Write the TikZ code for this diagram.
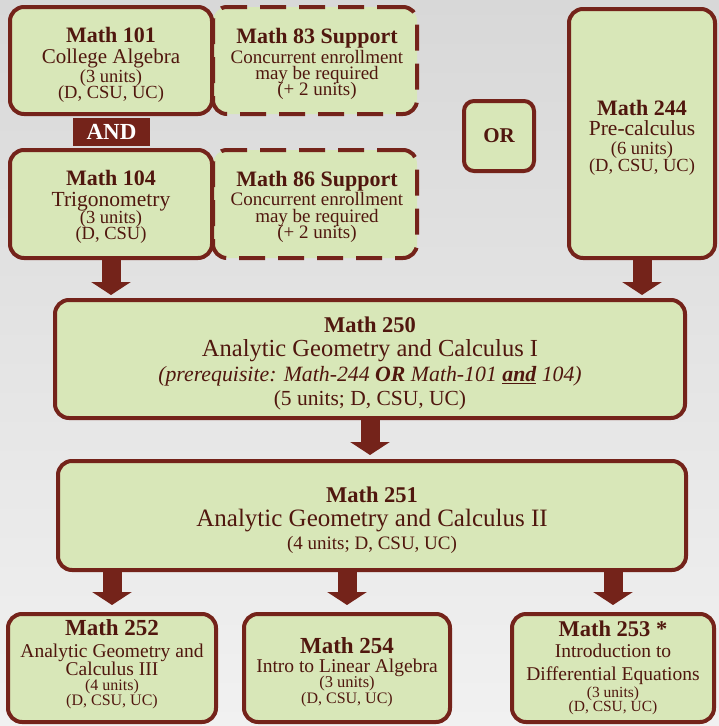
\documentclass[tikz,border=0pt]{standalone}
\usepackage{fontspec}
\setmainfont{Liberation Serif}
\usetikzlibrary{arrows.meta}
\definecolor{maroon}{HTML}{74231A}
\definecolor{boxfill}{HTML}{D8E7B8}
\definecolor{txt}{HTML}{50170E}
\definecolor{bgtop}{HTML}{D8D8D8}
\definecolor{bgbot}{HTML}{F1F1F1}
\pgfdeclarelayer{back}
\pgfdeclarelayer{arrowlayer}
\pgfsetlayers{back,arrowlayer,main}
\newcommand\fs[2]{\fontsize{#1}{#2}\selectfont}
\newcommand\tightlines{\lineskiplimit=-100pt\relax}
\begin{document}
\begin{tikzpicture}[x=1pt,y=-1pt,
  course/.style={draw=maroon, line width=4pt, fill=boxfill, rounded corners=14pt, inner sep=0pt},
  support/.style={course, dash pattern=on 26pt off 13pt},
  txtblock/.style={text=txt, align=center, inner sep=0pt, anchor=north, font=\fs{18.5}{16}\tightlines},
  flow/.style={draw=maroon, line width=19pt, -{Triangle[width=39pt,length=13pt]}},
]
\begin{pgfonlayer}{back}
\shade[top color=bgtop, bottom color=bgbot] (0,0) rectangle (719,726);
\end{pgfonlayer}
\useasboundingbox (0,0) rectangle (719,726);

% boxes
\node[support, minimum width=204pt, minimum height=107pt] (n83) at (315,60.5) {};
\node[support, minimum width=204pt, minimum height=108pt] (n86) at (315,204) {};
\node[course, minimum width=202pt, minimum height=107pt] (n101) at (111,60.5) {};
\node[course, minimum width=202pt, minimum height=108pt] (n104) at (111,204) {};
\node[course, rounded corners=10pt, minimum width=70pt, minimum height=70pt,
      text=txt, font=\fs{21}{21}\bfseries] (nOR) at (499,136) {OR};
\node[course, minimum width=146pt, minimum height=249pt] (n244) at (642,133.5) {};
\node[course, minimum width=630pt, minimum height=118pt] (n250) at (370,359) {};
\node[course, minimum width=628pt, minimum height=109pt] (n251) at (372,515.5) {};
\node[course, minimum width=208pt, minimum height=108pt] (n252) at (112,668) {};
\node[course, minimum width=206pt, minimum height=108pt] (n254) at (347,668) {};
\node[course, minimum width=202pt, minimum height=108pt] (n253) at (613,668) {};
\node[fill=maroon, minimum width=77pt, minimum height=28pt, inner sep=0pt,
      text=white, font=\fs{23}{23}\bfseries] (nAND) at (111.5,132) {AND};

% texts
\node[txtblock] (t101) at (111,27.4) {{\fs{22}{16}\bfseries Math 101}\\[5pt]
  {\fs{21}{16}College Algebra}\\[2.4pt] (3 units)\\ (D, CSU, UC)};
\node[txtblock] (t83) at (317,28.1) {{\fs{22}{16}\bfseries Math 83 Support}\\[4pt]
  {\fs{19}{16}Concurrent enrollment}\\ {\fs{19}{16}may be required}\\ {\fs{19}{16}(+ 2 units)}};
\node[txtblock] (t104) at (111,170.1) {{\fs{22}{16}\bfseries Math 104}\\[4.7pt]
  {\fs{21.5}{16}Trigonometry}\\[1pt] (3 units)\\[0.6pt] (D, CSU)};
\node[txtblock] (t86) at (317,171.1) {{\fs{22}{16}\bfseries Math 86 Support}\\[3pt]
  {\fs{19}{16}Concurrent enrollment}\\[0.7pt] {\fs{19}{16}may be required}\\ {\fs{19}{16}(+ 2 units)}};
\node[txtblock] (t244) at (642,100.1) {{\fs{22}{16}\bfseries Math 244}\\[4pt]
  {\fs{21.5}{16}Pre-calculus}\\[3pt] (6 units)\\[1pt] (D, CSU, UC)};
\node[txtblock] (t250) at (370,316.8) {{\fs{22.5}{16}\bfseries Math 250}\\[8pt]
  {\fs{24.5}{16}Analytic Geometry and Calculus I}\\[9pt]
  {\fs{21.8}{16}\itshape (prerequisite: Math-244 \textbf{OR} Math-101 \underline{\textbf{and}} 104)}\\[8pt]
  {\fs{21.5}{16}(5 units; D, CSU, UC)}};
\node[txtblock] (t251) at (372,486.8) {{\fs{22.5}{16}\bfseries Math 251}\\[8pt]
  {\fs{25}{16}Analytic Geometry and Calculus II}\\[7pt]
  {\fs{19}{16}(4 units; D, CSU, UC)}};
\node[txtblock] (t252) at (112,619.4) {{\fs{23}{16}\bfseries Math 252}\\[6pt]
  {\fs{19.5}{16}Analytic Geometry and}\\[2pt] {\fs{19.5}{16}Calculus III}\\[-1pt]
  {\fs{16}{16}(4 units)}\\[-1pt] {\fs{16}{16}(D, CSU, UC)}};
\node[txtblock] (t254) at (347,637.4) {{\fs{23}{16}\bfseries Math 254}\\[2.7pt]
  {\fs{19.5}{16}Intro to Linear Algebra}\\[-0.7pt]
  {\fs{16.5}{16}(3 units)}\\ {\fs{16}{16}(D, CSU, UC)}};
\node[txtblock] (t253) at (613,620.8) {{\fs{22.5}{16}\bfseries Math 253 *}\\[5.3pt]
  {\fs{19.5}{16}Introduction to}\\[6.7pt] {\fs{19.5}{16}Differential Equations}\\[0.7pt]
  {\fs{15.5}{16}(3 units)}\\[-2pt] {\fs{15.5}{16}(D, CSU, UC)}};

% arrows
\begin{pgfonlayer}{arrowlayer}
\draw[flow, shorten >=3pt] (n104.south) -- (n104.south |- n250.north);
\draw[flow, shorten >=3pt] (n244.south) -- (n244.south |- n250.north);
\draw[flow, shorten >=4pt] (n250.south) -- (n250.south |- n251.north);
\draw[flow, shorten >=7pt] (n252.north |- n251.south) -- (n252.north);
\draw[flow, shorten >=7pt] (n254.north |- n251.south) -- (n254.north);
\draw[flow, shorten >=7pt] (n253.north |- n251.south) -- (n253.north);
\end{pgfonlayer}
\end{tikzpicture}
\end{document}
